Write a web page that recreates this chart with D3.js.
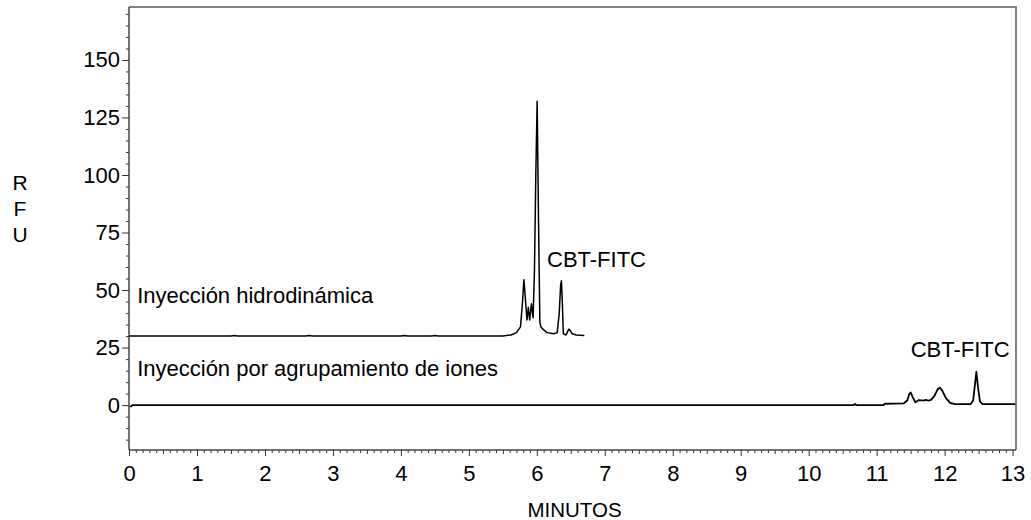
<!DOCTYPE html>
<html><head><meta charset="utf-8">
<script src="https://cdn.jsdelivr.net/npm/d3@7"></script>
<style>
html,body{margin:0;padding:0;background:#fff;}
text{font-family:"Liberation Sans",Arial,Helvetica,sans-serif;fill:#000;}
</style></head>
<body><svg id="c" width="1031" height="520"></svg>
<script>
// Trace 1: Inyección hidrodinámica (offset baseline ~30 RFU)
const hydroTime = [0, 1.5, 1.55, 1.6, 2.6, 2.65, 2.7, 4.0, 4.05, 4.1, 4.45, 4.5, 4.55, 5.5, 5.62, 5.7, 5.76, 5.79, 5.81, 5.83, 5.855, 5.875, 5.895, 5.92, 5.945, 5.965, 5.985, 6.005, 6.025, 6.045, 6.06, 6.09, 6.15, 6.25, 6.3, 6.33, 6.35, 6.362, 6.375, 6.39, 6.43, 6.47, 6.49, 6.52, 6.58, 6.7];
const hydroRFU  = [30, 30, 30.3, 30, 30, 30.3, 30, 30, 30.3, 30, 30, 30.3, 30, 30, 30.5, 31.5, 34, 45, 54.5, 47, 37, 42.5, 37, 44, 38, 58, 100, 132, 80, 36, 34, 33, 31.5, 31, 31.5, 40, 52, 54, 45, 31, 30.5, 33, 32.5, 31, 30.5, 30.3];
// Trace 2: Inyección por agrupamiento de iones
const ionTime = [0.02, 0.05, 10.66, 10.68, 10.70, 11.1, 11.12, 11.4, 11.45, 11.48, 11.5, 11.53, 11.57, 11.62, 11.7, 11.72, 11.76, 11.8, 11.85, 11.9, 11.93, 11.97, 12.02, 12.08, 12.15, 12.38, 12.42, 12.45, 12.467, 12.49, 12.52, 12.56, 13.04];
const ionRFU  = [-0.8, 0, 0, 0.5, 0, 0, 0.6, 0.8, 2, 4.8, 5.5, 3.5, 1.2, 2.2, 2, 2.3, 2, 2.3, 4, 7, 7.6, 6, 3, 1, 0.4, 0.4, 2, 10, 14.5, 8, 1.5, 0.4, 0.4];

const xTickValues = [0,1,2,3,4,5,6,7,8,9,10,11,12,13];
const yTickValues = [0,25,50,75,100,125,150];
const xDomain = [0, 13.05];
const yDomain = [-19.5, 173];

const labels = [
  {text:"Inyección hidrodinámica", t:0.12, v:44.2, anchor:"start"},
  {text:"Inyección por agrupamiento de iones", t:0.12, v:12.5, anchor:"start"},
  {text:"CBT-FITC", t:6.15, v:60, anchor:"start"},
  {text:"CBT-FITC", t:11.5, v:20.8, anchor:"start"}
];

const svg = d3.select("#c");
const L = 129, R = 1016, T = 7, B = 450;
const x = d3.scaleLinear().domain(xDomain).range([L, R]);
const y = d3.scaleLinear().domain(yDomain).range([B, T]);

// frame top/right
svg.append("path").attr("d", `M${L},${T}H${R}V${B}`).attr("fill","none").attr("stroke","#808080").attr("stroke-width",2);

// minor ticks x
const xMinor = d3.range(0, 131).map(i => i/10).filter(v => v <= xDomain[1]);
svg.append("g").attr("transform", `translate(0,${B})`)
  .call(d3.axisBottom(x).tickValues(xMinor.filter(v => Math.abs(v*2 - Math.round(v*2))>1e-6)).tickSize(3).tickFormat(""))
  .call(g => g.select(".domain").remove())
  .selectAll("line").attr("stroke","#333");
svg.append("g").attr("transform", `translate(0,${B})`)
  .call(d3.axisBottom(x).tickValues(xMinor.filter(v => Math.abs(v - Math.round(v))>1e-6 && Math.abs(v*2 - Math.round(v*2))<1e-6)).tickSize(4).tickFormat(""))
  .call(g => g.select(".domain").remove())
  .selectAll("line").attr("stroke","#333");
const xa = svg.append("g").attr("transform", `translate(0,${B})`)
  .call(d3.axisBottom(x).tickValues(xTickValues).tickSize(6).tickPadding(9).tickFormat(d3.format("d")));
xa.select(".domain").attr("d", `M${L},0H${R}`).attr("stroke","#444").attr("stroke-width",1.5);
xa.selectAll("line").attr("stroke","#333");
xa.selectAll("text").style("font-size","22px").attr("dy","0.71em");

// y minor
const yMinor = d3.range(-15, 171, 5).filter(v => v % 25 !== 0);
svg.append("g").attr("transform", `translate(${L},0)`)
  .call(d3.axisLeft(y).tickValues(yMinor).tickSize(3).tickFormat(""))
  .call(g => g.select(".domain").remove())
  .selectAll("line").attr("stroke","#333");
const ya = svg.append("g").attr("transform", `translate(${L},0)`)
  .call(d3.axisLeft(y).tickValues(yTickValues).tickSize(7).tickPadding(2).tickFormat(d3.format("d")));
ya.select(".domain").attr("d", `M0,${T}V${B}`).attr("stroke","#444").attr("stroke-width",1.5);
ya.selectAll("line").attr("stroke","#333");
ya.selectAll("text").style("font-size","22px");

// traces
const line = d3.line().x(d => x(d[0])).y(d => y(d[1]));
svg.append("path").datum(hydroTime.map((t,i)=>[t, hydroRFU[i]]))
  .attr("d", line).attr("fill","none").attr("stroke","#000").attr("stroke-width",1.5).attr("stroke-linejoin","round");
svg.append("path").datum(ionTime.map((t,i)=>[t, ionRFU[i]]))
  .attr("d", line).attr("fill","none").attr("stroke","#000").attr("stroke-width",1.8).attr("stroke-linejoin","round");

// annotations
labels.forEach(l => {
  svg.append("text").attr("x", x(l.t)).attr("y", y(l.v)).attr("text-anchor", l.anchor)
    .style("font-size","22px").text(l.text);
});

// axis titles
svg.append("text").attr("x", (L+R)/2 + 2).attr("y", 517).attr("text-anchor","middle").style("font-size","20.5px").text("MINUTOS");
["R","F","U"].forEach((c,i) => {
  svg.append("text").attr("x", 20).attr("y", 190 + i*26).attr("text-anchor","middle").style("font-size","21px").text(c);
});
</script></body></html>
